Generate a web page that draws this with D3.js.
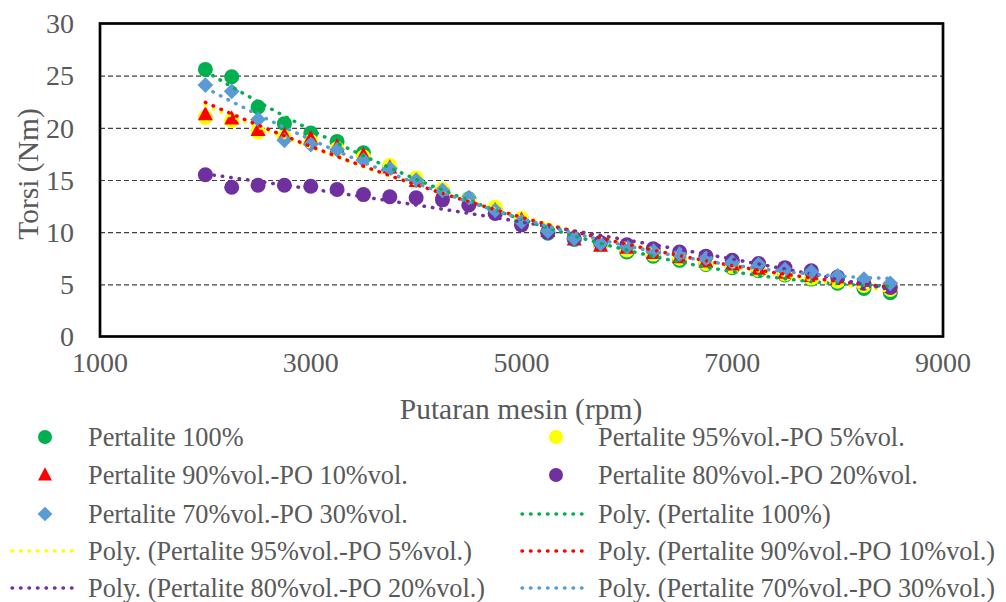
<!DOCTYPE html>
<html>
<head>
<meta charset="utf-8">
<script src="https://d3js.org/d3.v7.min.js"></script>
</head>
<body style="margin:0;background:#fff">
<script>
// rpm values on the x axis
var rpm = [2000, 2250, 2500, 2750, 3000, 3250, 3500, 3750, 4000, 4250, 4500, 4750, 5000, 5250,
           5500, 5750, 6000, 6250, 6500, 6750, 7000, 7250, 7500, 7750, 8000, 8250, 8500];

// torque (Nm) per fuel mix
var p100 = [25.6, 24.9, 22.0, 20.4, 19.5, 18.7, 17.6, 16.2, 15.0, 14.0, 13.2, 12.2, 11.2, 9.9,
            9.3, 8.8, 8.1, 7.7, 7.3, 6.9, 6.6, 6.3, 5.9, 5.5, 5.1, 4.6, 4.2];
var p95  = [21.0, 20.7, 19.6, 19.1, 18.7, 18.0, 17.2, 16.4, 15.2, 14.1, 13.1, 12.4, 11.3, 10.2,
            9.4, 8.8, 8.3, 7.9, 7.5, 7.0, 6.7, 6.4, 6.0, 5.6, 5.3, 4.9, 4.5];
var p90  = [21.3, 20.9, 19.8, 19.3, 19.0, 18.2, 17.4, 16.2, 14.9, 13.9, 13.0, 12.1, 11.2, 10.1,
            9.3, 8.7, 8.5, 8.0, 7.6, 7.2, 6.9, 6.5, 6.1, 5.8, 5.5, 5.2, 4.8];
var p80  = [15.5, 14.3, 14.5, 14.5, 14.4, 14.1, 13.6, 13.4, 13.3, 13.1, 12.6, 11.8, 10.7, 10.0,
            9.4, 9.0, 8.8, 8.4, 8.1, 7.7, 7.3, 7.0, 6.6, 6.3, 5.7, 5.1, 4.7];
var p70  = [24.1, 23.5, 20.8, 18.8, 18.4, 17.9, 16.9, 16.1, 15.0, 14.0, 13.3, 12.1, 11.0, 10.1,
            9.4, 8.9, 8.6, 8.2, 7.9, 7.5, 7.1, 6.9, 6.4, 6.2, 5.8, 5.5, 5.1];

var xTicks = [1000, 3000, 5000, 7000, 9000];
var yTicks = [0, 5, 10, 15, 20, 25, 30];

var seriesNames = ["Pertalite 100%", "Pertalite 95%vol.-PO 5%vol.", "Pertalite 90%vol.-PO 10%vol.",
                   "Pertalite 80%vol.-PO 20%vol.", "Pertalite 70%vol.-PO 30%vol."];
var seriesColors = ["#00b050", "#ffff00", "#ff0000", "#7030a0", "#5b9bd5"];
var seriesShapes = ["circle", "circle", "triangle", "circle", "diamond"];
var seriesValues = [p100, p95, p90, p80, p70];

var GRAY = "#595959";
function serif(px) {
  return "font-family: 'Liberation Serif', Tinos, 'Times New Roman', serif; font-size: " + px + "px;";
}

var svg = d3.select("body").append("svg").attr("width", 1006).attr("height", 602);

var x = d3.scaleLinear().domain([1000, 9000]).range([100, 943]);
var y = d3.scaleLinear().domain([0, 30]).range([336.5, 23.5]);

// grid lines
svg.append("g")
  .attr("transform", "translate(100,0)")
  .call(d3.axisLeft(y).tickValues([5, 10, 15, 20, 25]).tickSize(-843).tickFormat(""))
  .call(function(g) { g.select(".domain").remove(); })
  .selectAll("line")
    .attr("stroke", "#404040").attr("stroke-width", 1.2).attr("stroke-dasharray", "5,3");

// tick labels
svg.selectAll(".ytick").data(yTicks).enter().append("text")
  .attr("x", 74).attr("y", function(d) { return y(d); }).attr("dy", "0.35em")
  .attr("text-anchor", "end").attr("style", serif(28)).attr("fill", GRAY)
  .text(function(d) { return d; });

svg.selectAll(".xtick").data(xTicks).enter().append("text")
  .attr("x", function(d) { return x(d); }).attr("y", 372)
  .attr("text-anchor", "middle").attr("style", serif(28)).attr("fill", GRAY)
  .text(function(d) { return d; });

// plot border
svg.append("rect").attr("x", 100).attr("y", 23.5).attr("width", 843).attr("height", 313)
  .attr("fill", "none").attr("stroke", "#000").attr("stroke-width", 2.7);

// axis titles
svg.append("text").attr("x", 521).attr("y", 419).attr("text-anchor", "middle")
  .attr("style", serif(29.5)).attr("fill", GRAY).text("Putaran mesin (rpm)");
svg.append("text").attr("transform", "translate(38,174) rotate(-90)").attr("text-anchor", "middle")
  .attr("style", serif(29.5)).attr("fill", GRAY).text("Torsi (Nm)");

function marker(g, shape, color, cx, cy, s) {
  if (shape === "circle") {
    g.append("circle").attr("cx", cx).attr("cy", cy).attr("r", s).attr("fill", color);
  } else if (shape === "triangle") {
    g.append("path").attr("d", "M" + cx + "," + (cy - s * 1.1) + "L" + (cx + s) + "," + (cy + s * 0.8) +
      "L" + (cx - s) + "," + (cy + s * 0.8) + "Z").attr("fill", color);
  } else {
    g.append("path").attr("d", "M" + cx + "," + (cy - s * 1.05) + "L" + (cx + s * 1.05) + "," + cy +
      "L" + cx + "," + (cy + s * 1.05) + "L" + (cx - s * 1.05) + "," + cy + "Z").attr("fill", color);
  }
}

// markers
seriesValues.forEach(function(vals, i) {
  var g = svg.append("g");
  vals.forEach(function(v, j) {
    marker(g, seriesShapes[i], seriesColors[i], x(rpm[j]), y(v), 7.5);
  });
});

// quadratic least squares trendline (Excel "Poly." order 2)
function polyFit(xs, ys) {
  var n = xs.length, s = [0, 0, 0, 0, 0], t = [0, 0, 0];
  for (var k = 0; k < n; k++) {
    var u = xs[k] / 1000;
    for (var p = 0; p < 5; p++) s[p] += Math.pow(u, p);
    for (var q = 0; q < 3; q++) t[q] += ys[k] * Math.pow(u, q);
  }
  var A = [[s[0], s[1], s[2], t[0]], [s[1], s[2], s[3], t[1]], [s[2], s[3], s[4], t[2]]];
  for (var c = 0; c < 3; c++) {
    for (var r = c + 1; r < 3; r++) {
      var f = A[r][c] / A[c][c];
      for (var m = c; m < 4; m++) A[r][m] -= f * A[c][m];
    }
  }
  var b = [0, 0, 0];
  for (var r2 = 2; r2 >= 0; r2--) {
    var sum = A[r2][3];
    for (var m2 = r2 + 1; m2 < 3; m2++) sum -= A[r2][m2] * b[m2];
    b[r2] = sum / A[r2][r2];
  }
  return function(xv) { var u = xv / 1000; return b[0] + b[1] * u + b[2] * u * u; };
}

var line = d3.line().x(function(d) { return x(d[0]); }).y(function(d) { return y(d[1]); });
seriesValues.forEach(function(vals, i) {
  var fn = polyFit(rpm, vals);
  var pts = [];
  for (var xv = rpm[0]; xv <= rpm[rpm.length - 1]; xv += 50) pts.push([xv, fn(xv)]);
  svg.append("path").attr("d", line(pts)).attr("fill", "none")
    .attr("stroke", seriesColors[i]).attr("stroke-width", 3.5)
    .attr("stroke-linecap", "round").attr("stroke-dasharray", "0.5,8");
});

// legend
var rows = [437, 475, 514, 551, 588];
var legendItems = [];
seriesNames.forEach(function(n, i) { legendItems.push({ type: "marker", i: i, label: n }); });
seriesNames.forEach(function(n, i) { legendItems.push({ type: "line", i: i, label: "Poly. (" + n + ")" }); });

legendItems.forEach(function(it, k) {
  var col = k % 2, row = Math.floor(k / 2);
  var cy = rows[row];
  var g = svg.append("g");
  if (it.type === "marker") {
    marker(g, seriesShapes[it.i], seriesColors[it.i], col === 0 ? 45 : 556, cy, 7);
  } else {
    var x0 = col === 0 ? 12 : 522;
    g.append("line").attr("x1", x0).attr("x2", x0 + 67).attr("y1", cy).attr("y2", cy)
      .attr("stroke", seriesColors[it.i]).attr("stroke-width", 3.5)
      .attr("stroke-linecap", "round").attr("stroke-dasharray", "0.5,8");
  }
  g.append("text").attr("x", col === 0 ? 88 : 598).attr("y", cy).attr("dy", "0.35em")
    .attr("style", serif(26.3)).attr("fill", GRAY).text(it.label);
});
</script>
</body>
</html>
